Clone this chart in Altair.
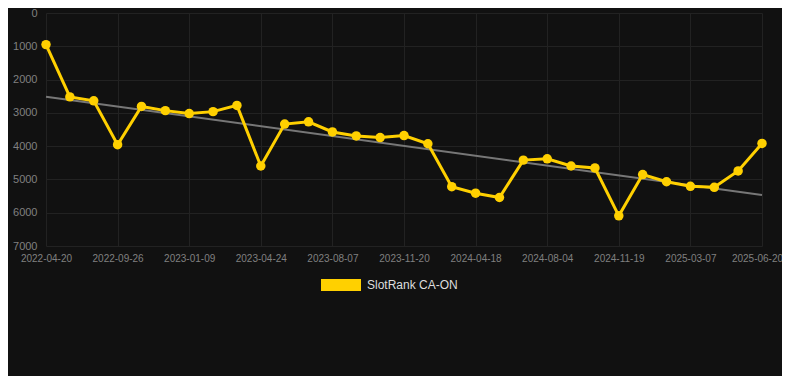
import altair as alt
import pandas as pd

dates = ["2022-04-20", "2022-06-12", "2022-08-04", "2022-09-26", "2022-10-31", "2022-12-05",
         "2023-01-09", "2023-02-13", "2023-03-20", "2023-04-24", "2023-05-29", "2023-07-03",
         "2023-08-07", "2023-09-11", "2023-10-16", "2023-11-20", "2024-01-08", "2024-02-28",
         "2024-04-18", "2024-05-26", "2024-07-01", "2024-08-04", "2024-09-08", "2024-10-14",
         "2024-11-19", "2024-12-24", "2025-01-30", "2025-03-07", "2025-04-11", "2025-05-16",
         "2025-06-20"]
ranks = [950, 2520, 2638, 3957, 2806, 2933, 3022, 2963, 2776, 4597, 3337, 3268, 3573, 3692,
         3741, 3682, 3928, 5218, 5414, 5543, 4420, 4381, 4597, 4656, 6093, 4853, 5070, 5207,
         5237, 4745, 3918]
y_ticks = [0, 1000, 2000, 3000, 4000, 5000, 6000, 7000]
series = "SlotRank CA-ON"

df = pd.DataFrame({"idx": list(range(len(dates))), "date": dates, "rank": ranks, "series": series})

label_expr = "[" + ",".join(f"'{d}'" for d in dates) + "][datum.value]"
last = len(dates) - 1

x = alt.X("idx:Q", scale=alt.Scale(domain=[0, last], nice=False, zero=False),
          axis=alt.Axis(values=list(range(0, len(dates), 3)), labelExpr=label_expr, title=None,
                        grid=True, gridColor="#222222", domain=False, ticks=False,
                        labelColor="#808080", labelFontSize=10, labelPadding=7,
                        labelOverlap=False, labelFlush=False, labelBound=False,
                        labelOffset={"condition": {"test": f"datum.value == {last}", "value": -5},
                                     "value": 0},
                        labelFont="Liberation Sans"))
y = alt.Y("rank:Q", scale=alt.Scale(domain=[0, 7000], reverse=True, nice=False),
          axis=alt.Axis(values=y_ticks, format="d", title=None,
                        grid=True, gridColor="#222222", domain=False, ticks=False,
                        labelColor="#808080", labelFontSize=11, labelPadding=9,
                        labelOverlap=False, labelFlush=False,
                        labelFont="Liberation Sans"))

base = alt.Chart(df)

trend = base.transform_regression("idx", "rank", extent=[0, last]).mark_line(
    color="#777777", strokeWidth=2).encode(x=x, y=y)

color = alt.Color("series:N", scale=alt.Scale(range=["#FFD000"]),
                  legend=alt.Legend(title=None, orient="none", legendX=275, legendY=252,
                                    symbolType="M-1,-0.3H1V0.3H-1Z", symbolSize=1600,
                                    symbolStrokeWidth=0, symbolFillColor="#FFD000",
                                    labelColor="#dddddd", labelFontSize=12, labelOffset=6,
                                    labelFont="Liberation Sans", symbolOpacity=1))

line = base.mark_line(strokeWidth=3).encode(x=x, y=y, color=color)
pts = base.mark_circle(size=90, opacity=1).encode(x=x, y=y, color=color)

chart = alt.layer(trend, line, pts).properties(
    width=716, height=233, background="#111111",
    padding={"left": 38, "top": 5, "right": 20, "bottom": 130},
    autosize=alt.AutoSizeParams(type="none"),
).configure_view(stroke=None)

chart.save("out.html", embed_options={"renderer": "svg", "actions": False})
